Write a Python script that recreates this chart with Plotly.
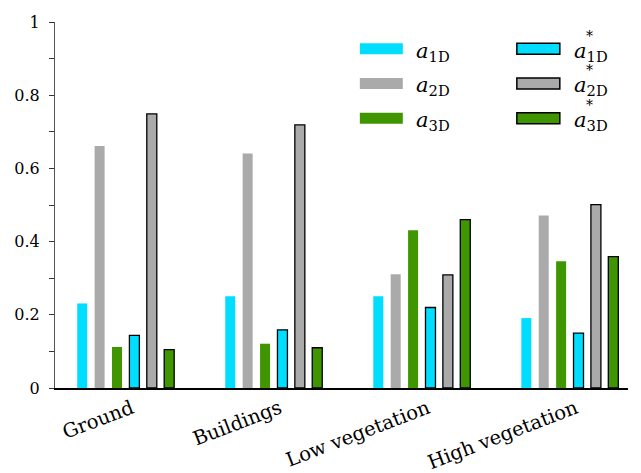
import plotly.graph_objects as go

categories = ["Ground", "Buildings", "Low vegetation", "High vegetation"]
a1D = [0.231, 0.251, 0.251, 0.191]
a2D = [0.661, 0.641, 0.311, 0.471]
a3D = [0.112, 0.121, 0.431, 0.346]
a1D_star = [0.144, 0.159, 0.220, 0.150]
a2D_star = [0.749, 0.719, 0.309, 0.501]
a3D_star = [0.105, 0.110, 0.460, 0.359]

CYAN = "#00DDFF"
GRAY = "#AAAAAA"
GREEN = "#409600"
FONT = "DejaVu Serif"

xpos = list(range(len(categories)))

series = [
    ("a1D", a1D, CYAN, False),
    ("a2D", a2D, GRAY, False),
    ("a3D", a3D, GREEN, False),
    ("a1D*", a1D_star, CYAN, True),
    ("a2D*", a2D_star, GRAY, True),
    ("a3D*", a3D_star, GREEN, True),
]

fig = go.Figure()
for name, vals, col, star in series:
    fig.add_trace(go.Bar(
        x=xpos, y=vals, name=name, showlegend=False,
        marker=dict(color=col,
                    line=dict(color="black" if star else col,
                              width=1.3 if star else 0)),
    ))

# legend drawn as shapes + text
rows_y = [0.927, 0.832, 0.737]
cols = [(0.532, 0.607, 0.6265, False), (0.806, 0.881, 0.9018, True)]
colors = [CYAN, GRAY, GREEN]
subs = ["1D", "2D", "3D"]
h = 0.015
for x0, x1, tx, star in cols:
    for yc, col, sub in zip(rows_y, colors, subs):
        fig.add_shape(type="rect", xref="paper", yref="paper",
                      x0=x0, x1=x1, y0=yc - h, y1=yc + h,
                      fillcolor=col,
                      line=dict(color="black" if star else col, width=1.5 if star else 0))
        fig.add_annotation(xref="paper", yref="paper", x=tx, y=yc - 0.008,
                           xanchor="left", yanchor="middle", showarrow=False,
                           text="<i>a</i><sub>" + sub + "</sub>",
                           font=dict(family=FONT, size=21, color="black"))
        if star:
            fig.add_annotation(xref="paper", yref="paper", x=tx + 0.021, y=yc + 0.036,
                               xanchor="left", yanchor="middle", showarrow=False,
                               text="*", font=dict(family=FONT, size=14, color="black"))

fig.update_layout(
    width=641, height=473,
    margin=dict(l=47, r=21, t=14, b=93),
    plot_bgcolor="white", paper_bgcolor="white",
    barmode="group", bargap=0.295, bargroupgap=0.425,
    font=dict(family=FONT, size=16, color="black"),
    xaxis=dict(range=[-0.4776, 3.393], tickmode="array", tickvals=[x + 0.04 for x in xpos],
               ticktext=categories, tickangle=-21, showgrid=False, zeroline=False,
               showline=True, linecolor="black", linewidth=1.5, ticks="",
               automargin=False,
               tickfont=dict(family=FONT, size=19.5, color="black")),
    yaxis=dict(range=[0, 1], tickvals=[0, 0.2, 0.4, 0.6, 0.8, 1],
               ticktext=["0", "0.2", "0.4", "0.6", "0.8", "1"],
               showgrid=False, zeroline=False, showline=True, linecolor="#555555",
               linewidth=1.2, ticks="outside", ticklen=5, tickcolor="#333333",
               ticklabelstandoff=6, automargin=False,
               minor=dict(ticks="outside", ticklen=5, tickcolor="#333333",
                          tickvals=[0.1, 0.3, 0.5, 0.7, 0.9]),
               tickfont=dict(family=FONT, size=16, color="black")),
)

fig.write_html("out.html")
